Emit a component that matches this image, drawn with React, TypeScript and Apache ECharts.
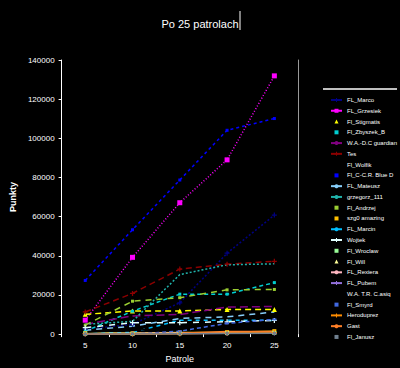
import React, { useEffect, useRef } from 'react';
import * as echarts from 'echarts';

const titleText = 'Po 25 patrolach';
const xName = 'Patrole';
const yName = 'Punkty';
const categories = ['5', '10', '15', '20', '25'];
const yMin = 0;
const yMax = 140000;
const yStep = 20000;

const seriesNames = [
  'FL_Marco', 'FL_Grzesiek', 'Fl_Stigmatis', 'Fl_Zbyszek_B', 'W.A.-D.C guardian', 'Tes',
  'Fl_Wolfik', 'Fl_C-C.R. Blue D', 'FL_Mateusz', 'grzegorz_111', 'Fl_Andrzej', 'szg0 amazing',
  'FL_Marcin', 'Wojtek', 'Fl_Wroclaw', 'Fl_Will', 'FL_Rexiera', 'FL_Pubem',
  'W.A. T.R. C.asiq', 'Fl_Smyrd', 'Heroduprez', 'Gast', 'Fl_Janusz'
];

const flMarco = [2500, 5000, 16000, 41300, 60800];
const flGrzesiek = [7100, 39200, 67100, 89000, 131900];
const flStig = [10100, 11800, 11800, 12600, 12600];
const flZbyszek = [1500, 11700, 20400, 20400, 26300];
const waGuardian = [5000, 9300, 10000, 13800, 14100];
const tes = [11300, 20800, 33200, 35700, 37200];
const flWolfik = [2000, 4000, 6000, 8000, 9000];
const flBlue = [27400, 53300, 78700, 104100, 110100];
const flMateusz = [2000, 4000, 8000, 8800, 11300];
const grzegorz = [5000, 6500, 30400, 35400, 35900];
const flAndrzej = [4600, 16800, 18600, 22600, 22800];
const szgAmazing = [500, 400, 800, 1000, 1500];
const flMarcin = [600, 800, 7100, 7100, 7000];
const wojtek = [3300, 5800, 5800, 6300, 7000];
const flWroclaw = [300, 200, 400, 500, 600];
const flWill = [400, 300, 500, 700, 900];
const flRex = [200, 300, 300, 400, 500];
const flPubem = [100, 200, 300, 400, 500];
const waCasiq = [1000, 2000, 3000, 4000, 5000];
const flSmyrd = [0, 0, 1500, 5500, 7500];
const heroduprez = [200, 100, 200, 500, 800];
const gast = [100, 200, 400, 1300, 1300];
const flJanusz = [100, 100, 200, 300, 400];

const seriesValues = [
  flMarco, flGrzesiek, flStig, flZbyszek, waGuardian, tes, flWolfik, flBlue, flMateusz,
  grzegorz, flAndrzej, szgAmazing, flMarcin, wojtek, flWroclaw, flWill, flRex, flPubem,
  waCasiq, flSmyrd, heroduprez, gast, flJanusz
];

const PLUS = 'path://M1.5,0H2.5V1.5H4V2.5H2.5V4H1.5V2.5H0V1.5H1.5Z';

// style per series: color, symbol, symbol size, line dash, legend shows line
const styles: any[] = [
  { c: '#000080', s: PLUS, z: 5, d: [2, 2], l: true },
  { c: '#ff00ff', s: 'rect', z: 5, d: [1, 2], l: true },
  { c: '#ffff00', s: 'triangle', z: 5, d: [6, 4], l: false },
  { c: '#00ced1', s: 'rect', z: 3, d: [4, 3], l: false },
  { c: '#800080', s: 'none', z: 0, d: [8, 4], l: true },
  { c: '#8b0000', s: PLUS, z: 5, d: [6, 4], l: true },
  { c: '#000000', s: 'none', z: 0, d: 'solid', l: true },
  { c: '#0000ff', s: 'rect', z: 3, d: [3, 3], l: false },
  { c: '#87cefa', s: 'none', z: 0, d: [6, 5], l: true },
  { c: '#20b2aa', s: 'none', z: 0, d: [2, 2], l: true },
  { c: '#9acd32', s: 'rect', z: 3, d: [6, 5], l: false },
  { c: '#ffc000', s: 'rect', z: 4, d: 'solid', l: false },
  { c: '#00bfff', s: 'none', z: 0, d: [4, 4], l: true },
  { c: '#e0ffff', s: PLUS, z: 5, d: [6, 6], l: true },
  { c: '#98fb98', s: 'rect', z: 4, d: 'solid', l: false },
  { c: '#ffff99', s: 'triangle', z: 4, d: 'solid', l: false },
  { c: '#ffb6c1', s: 'none', z: 0, d: 'solid', l: true },
  { c: '#9370db', s: PLUS, z: 5, d: 'solid', l: true },
  { c: '#000000', s: 'none', z: 0, d: 'solid', l: true },
  { c: '#4169e1', s: 'rect', z: [4, 2], d: [4, 3], l: false },
  { c: '#ff8c00', s: PLUS, z: 5, d: 'solid', l: true },
  { c: '#ff7f27', s: 'none', z: 0, d: 'solid', l: true },
  { c: '#708090', s: 'rect', z: 3, d: 'solid', l: false }
];

const FONT = '"Liberation Sans", Arial, sans-serif';

export default function App() {
  const ref = useRef<HTMLDivElement>(null);
  useEffect(() => {
    if (!ref.current) return;
    const chart = echarts.init(ref.current, null, { renderer: 'svg' });
    const series = seriesNames.map((name, i) => {
      const st = styles[i];
      return {
        name,
        type: 'line',
        data: seriesValues[i],
        color: st.c,
        symbol: st.s === 'none' ? 'none' : st.s,
        showSymbol: st.s !== 'none',
        symbolSize: st.z,
        lineStyle: { color: st.c, width: 1.5, type: st.d },
        itemStyle: { color: st.c },
        emphasis: { disabled: true }
      };
    });
    const legendData = seriesNames.map((name, i) => {
      const st = styles[i];
      return st.l
        ? { name, lineStyle: { type: 'solid', width: 2 } }
        : { name, lineStyle: { width: 0, opacity: 0 } };
    });
    chart.setOption({
      animation: false,
      backgroundColor: '#000000',
      textStyle: { fontFamily: FONT },
      title: {
        text: titleText,
        left: 'center',
        top: 13,
        textStyle: { color: '#ffffff', fontSize: 11, fontWeight: 'normal', fontFamily: FONT }
      },
      graphic: [
        { type: 'line', shape: { x1: 240, y1: 11, x2: 240, y2: 30 }, style: { stroke: '#ffffff', lineWidth: 1 } },
        { type: 'line', shape: { x1: 323, y1: 89, x2: 397, y2: 89 }, style: { stroke: '#ffffff', lineWidth: 1.5 } }
      ],
      legend: {
        orient: 'vertical',
        left: 325,
        top: 91,
        itemWidth: 11,
        itemHeight: 5,
        itemGap: 2.77,
        data: legendData,
        textStyle: { color: '#ffffff', fontSize: 6, lineHeight: 8, fontFamily: FONT },
        selectedMode: false
      },
      grid: { left: 36, right: 102, top: 60, bottom: 27, containLabel: false },
      xAxis: {
        type: 'category',
        data: categories,
        boundaryGap: true,
        name: xName,
        nameLocation: 'middle',
        nameGap: 14,
        nameTextStyle: { color: '#ffffff', fontSize: 9, fontFamily: FONT },
        axisLine: { show: false },
        axisTick: { show: true, length: 3, lineStyle: { color: '#ffffff' } },
        axisLabel: { color: '#ffffff', fontSize: 8, margin: 7, fontFamily: FONT },
        splitLine: { show: false }
      },
      yAxis: [
        {
          type: 'value',
          min: yMin,
          max: yMax,
          interval: yStep,
          name: yName,
          nameLocation: 'middle',
          nameGap: 27,
          nameRotate: 90,
          nameTextStyle: { color: '#ffffff', fontSize: 9, fontWeight: 'bold', fontFamily: FONT },
          axisLine: { show: true, lineStyle: { color: '#ffffff', width: 1 } },
          axisTick: { show: true, length: 3, lineStyle: { color: '#ffffff' } },
          axisLabel: {
            color: '#ffffff',
            fontSize: 8,
            margin: 7,
            fontFamily: FONT,
            formatter: (v: number) => String(v)
          },
          splitLine: { show: false }
        },
        {
          type: 'value',
          position: 'right',
          min: yMin,
          max: yMax,
          interval: yStep,
          axisLine: { show: true, lineStyle: { color: '#999999', width: 1 } },
          axisTick: { show: false },
          axisLabel: { show: false },
          splitLine: { show: false }
        }
      ],
      series
    });
    return () => chart.dispose();
  }, []);
  return (
    <div
      ref={ref}
      style={{ position: 'fixed', left: 0, top: 0, width: 400, height: 368, background: '#000' }}
    />
  );
}
